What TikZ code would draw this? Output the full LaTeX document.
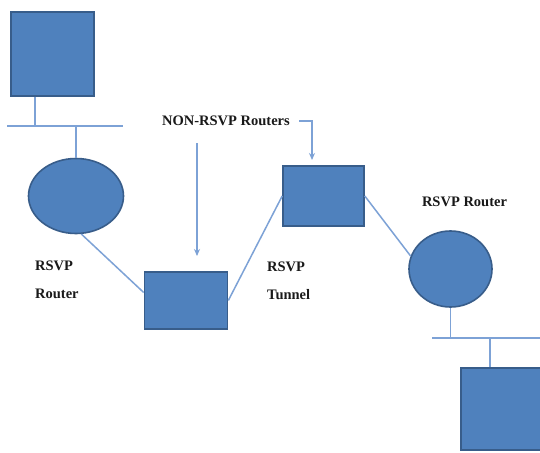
\documentclass[tikz,border=0pt]{standalone}
\usepackage{fontspec}
\setmainfont{Liberation Serif}
\usetikzlibrary{shapes.geometric,arrows.meta}
\definecolor{boxfill}{HTML}{4F81BD}
\definecolor{boxline}{HTML}{385D8A}
\definecolor{wire}{HTML}{7DA2D6}
\tikzset{
  devbox/.style={draw=boxline, fill=boxfill, line width=1.6pt, rectangle, inner sep=0pt},
  devell/.style={draw=boxline, fill=boxfill, line width=1.6pt, ellipse, inner sep=0pt},
  wireline/.style={draw=wire, line width=1.5pt},
  arr/.style={draw=wire, line width=1.3pt, -{Stealth[length=7pt,width=6pt]}},
  lbl/.style={font=\fontsize{14.5}{28}\selectfont\bfseries, inner sep=0pt, text=black!90}
}
\begin{document}
\begin{tikzpicture}[x=1pt,y=-1pt]
\clip (0,0) rectangle (540,452);
\fill[white] (0,0) rectangle (540,452);
% hosts and routers
\node[devbox, minimum width=83pt, minimum height=84pt] (sqA) at (52.5,54) {};
\node[devell, minimum width=95pt, minimum height=75pt] (ell1) at (76,196) {};
\node[devbox, minimum width=83pt, minimum height=57pt] (r1) at (186,300.5) {};
\node[devbox, minimum width=81pt, minimum height=60pt] (r2) at (323.5,196) {};
\node[devell, minimum width=83pt, minimum height=76pt] (ell2) at (450.5,269) {};
\node[devbox, minimum width=83pt, minimum height=82pt] (sqB) at (502.5,409) {};
% LAN bars
\coordinate (bar1L) at (7,126);
\coordinate (bar1R) at (123,126);
\coordinate (bar2L) at (432,338);
\coordinate (bar2R) at (545,338);
\draw[wireline] (bar1L) -- (bar1R);
\draw[wireline] (bar2L) -- (bar2R);
\coordinate (t1) at (35,126);
\coordinate (t2) at (76,126);
\coordinate (t3) at (450.5,338);
\coordinate (t4) at (490,338);
\draw[wireline] (t1 |- sqA.south) -- (t1);
\draw[wireline] (t2) -- (ell1.north);
\draw[wireline] (ell2.south) -- (t3);
\draw[wireline] (t4) -- (t4 |- sqB.north);
% links
\draw[wireline] (ell1.-82) -- ([yshift=8pt]r1.west);
\draw[wireline] (r1.east) -- (r2.west);
\draw[wireline] (r2.east) -- (ell2.162);
% labels
\node[lbl] (nonrsvp) at (226,121) {NON-RSVP Routers};
\node[lbl, align=left, anchor=north west] (lblL) at (35,261) {RSVP\\Router};
\node[lbl, align=left, anchor=north west] (lblT) at (267,262) {RSVP\\Tunnel};
\node[lbl] (lblR) at (464.5,202) {RSVP Router};
% arrows
\coordinate (a1s) at (197,143);
\coordinate (a1e) at (197,256);
\draw[arr] (a1s) -- (a1e);
\coordinate (a2s) at (299,121);
\coordinate (a2e) at (312,160);
\draw[arr] (a2s) -| (a2e);
\end{tikzpicture}
\end{document}
